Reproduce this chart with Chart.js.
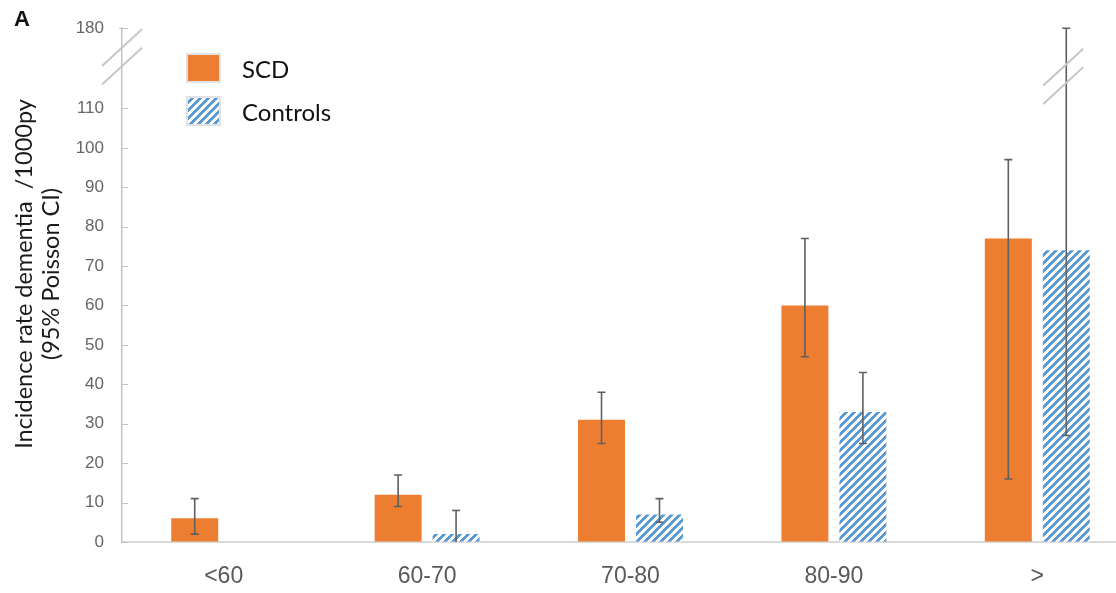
<!DOCTYPE html>
<html>
<head>
<meta charset="utf-8">
<script src="https://cdn.jsdelivr.net/npm/chart.js@4/dist/chart.umd.min.js"></script>
<style>
  html, body { margin: 0; padding: 0; background: #fff; overflow: hidden; width: 1116px; height: 593px; }
  #wrap { position: relative; width: 1150px; height: 593px; }
</style>
</head>
<body>
<div id="wrap"><canvas id="c" width="1150" height="593"></canvas></div>
<script>
// Age groups and incidence rates of dementia per 1000 person-years
const categories = ['<60', '60-70', '70-80', '80-90', '>'];
const seriesNames = ['SCD', 'Controls'];

const scdRates = [6, 12, 31, 60, 77];
const scdLow   = [2, 9, 25, 47, 16];
const scdHigh  = [11, 17, 38, 77, 97];

const controlRates = [0, 2, 7, 33, 74];
const controlLow   = [null, 0, 5, 25, 27];
const controlHigh  = [null, 8, 11, 43, 180];

const yTickValues = [0, 10, 20, 30, 40, 50, 60, 70, 80, 90, 100, 110, 180];

const yTitleLines = ['Incidence rate dementia  /1000py', '(95% Poisson CI)'];
const panelLetter = 'A';

// Broken value axis: everything above the break is compressed
const AXIS_BREAK = 110;
const SQUASH = 0.2907;
const AXIS_BREAK_MARK = 155;   // where the break symbol sits on the y axis
const BAR_BREAK_MARK = 138;    // where the break symbol sits on the long whisker

const ORANGE = '#ED7D31';
const BLUE = '#5B9BD5';
const INK = '#595959';

const squash = v => v <= AXIS_BREAK ? v : AXIS_BREAK + (v - AXIS_BREAK) * SQUASH;

class BrokenLinearScale extends Chart.LinearScale {
  getPixelForValue(value) {
    const lo = squash(this.min), hi = squash(this.max);
    return this.getPixelForDecimal((squash(value) - lo) / (hi - lo));
  }
  getValueForPixel(pixel) {
    const lo = squash(this.min), hi = squash(this.max);
    const s = lo + this.getDecimalForPixel(pixel) * (hi - lo);
    return s <= AXIS_BREAK ? s : AXIS_BREAK + (s - AXIS_BREAK) / SQUASH;
  }
}
BrokenLinearScale.id = 'brokenLinear';
BrokenLinearScale.defaults = Chart.LinearScale.defaults;
Chart.register(BrokenLinearScale);

// Upward diagonal hatch fill
function makeHatch() {
  const t = document.createElement('canvas');
  t.width = 8; t.height = 8;
  const g = t.getContext('2d');
  g.fillStyle = '#ffffff';
  g.fillRect(0, 0, 8, 8);
  g.fillStyle = BLUE;
  for (let y = 0; y < 8; y++) {
    for (let x = 0; x < 8; x++) {
      if (((x + y) % 8) < 4) g.fillRect(x, y, 1, 1);
    }
  }
  return g.createPattern(t, 'repeat');
}
const hatch = makeHatch();

const errorBars = [
  { low: scdLow, high: scdHigh },
  { low: controlLow, high: controlHigh }
];

const decorations = {
  id: 'decorations',
  afterDatasetsDraw(chart) {
    const ctx = chart.ctx;
    const ys = chart.scales.y;
    const area = chart.chartArea;

    // inward tick marks on the value axis
    ctx.save();
    ctx.strokeStyle = '#c4c4c4';
    ctx.lineWidth = 1;
    ys.ticks.forEach(t => {
      const py = Math.round(ys.getPixelForValue(t.value)) + 0.5;
      const x0 = t.value === 180 ? area.left - 3 : area.left;
      ctx.beginPath();
      ctx.moveTo(x0, py);
      ctx.lineTo(area.left + 6, py);
      ctx.stroke();
    });
    ctx.restore();

    // whiskers
    ctx.save();
    ctx.strokeStyle = '#5f5f5f';
    ctx.lineWidth = 1.6;
    errorBars.forEach((eb, di) => {
      const meta = chart.getDatasetMeta(di);
      meta.data.forEach((bar, i) => {
        if (eb.low[i] == null || eb.high[i] == null) return;
        const x = bar.x;
        const yl = ys.getPixelForValue(eb.low[i]);
        const yh = ys.getPixelForValue(eb.high[i]);
        ctx.beginPath();
        ctx.moveTo(x, yl); ctx.lineTo(x, yh);
        ctx.stroke();
        ctx.beginPath();
        if (eb.low[i] > 0) { ctx.moveTo(x - 4, yl); ctx.lineTo(x + 4, yl); }
        ctx.moveTo(x - 4, yh); ctx.lineTo(x + 4, yh);
        ctx.stroke();
      });
    });
    ctx.restore();

    // break symbols: pairs of slanted strokes
    const breakPair = (cx, cy) => {
      ctx.save();
      ctx.strokeStyle = '#c6c6c6';
      ctx.lineWidth = 2;
      [-9.2, 9.2].forEach(off => {
        ctx.beginPath();
        ctx.moveTo(cx - 20, cy + off + 18.4);
        ctx.lineTo(cx + 20, cy + off - 18.4);
        ctx.stroke();
      });
      ctx.restore();
    };
    breakPair(area.left, ys.getPixelForValue(AXIS_BREAK_MARK));
    const lastCtl = chart.getDatasetMeta(1).data[categories.length - 1];
    breakPair(lastCtl.x - 3, ys.getPixelForValue(BAR_BREAK_MARK));

    // legend
    ctx.save();
    const ds = chart.data.datasets;
    const boxes = [{ y: 54 }, { y: 97 }];
    ds.forEach((d, i) => {
      const by = boxes[i].y;
      ctx.fillStyle = '#e2e2e2';
      ctx.fillRect(186, by - 1, 35, 30);
      ctx.fillStyle = d.backgroundColor;
      ctx.fillRect(188, by + 1, 31, 26);
      ctx.fillStyle = '#111';
      ctx.font = '24px Lato, "Open Sans", sans-serif';
      ctx.textBaseline = 'middle';
      ctx.textAlign = 'left';
      ctx.fillText(d.label, 242, by + 16);
    });
    ctx.restore();

    // axis title and panel letter
    ctx.save();
    ctx.fillStyle = '#1a1a1a';
    ctx.font = '23.5px Lato, "Open Sans", sans-serif';
    ctx.textAlign = 'center';
    ctx.textBaseline = 'middle';
    ctx.translate(24, 274);
    ctx.rotate(-Math.PI / 2);
    ctx.fillText(yTitleLines[0], 0, 0);
    ctx.fillText(yTitleLines[1], 0, 27);
    ctx.restore();

    ctx.save();
    ctx.fillStyle = '#111';
    ctx.font = 'bold 22px "Liberation Sans", Arial, sans-serif';
    ctx.textAlign = 'left';
    ctx.textBaseline = 'alphabetic';
    ctx.fillText(panelLetter, 14, 26);
    ctx.restore();
  }
};

new Chart(document.getElementById('c'), {
  type: 'bar',
  data: {
    labels: categories,
    datasets: [
      { label: seriesNames[0], data: scdRates, backgroundColor: ORANGE, borderWidth: 0 },
      { label: seriesNames[1], data: controlRates, backgroundColor: hatch, borderWidth: 0 }
    ]
  },
  options: {
    responsive: false,
    animation: false,
    devicePixelRatio: 1,
    layout: { padding: { top: 23, right: 11, left: 0, bottom: 0 } },
    plugins: { legend: { display: false }, tooltip: { enabled: false } },
    datasets: { bar: { categoryPercentage: 0.57, barPercentage: 0.81 } },
    scales: {
      x: {
        grid: { drawOnChartArea: false, drawTicks: false },
        border: { color: '#d9d9d9', width: 2 },
        ticks: {
          color: INK,
          padding: 21,
          font: { family: '"Liberation Sans", Arial, sans-serif', size: 23 }
        },
        afterFit: s => { s.height = 51; }
      },
      y: {
        type: 'brokenLinear',
        min: 0,
        max: 180,
        afterBuildTicks: s => { s.ticks = yTickValues.map(v => ({ value: v })); },
        afterFit: s => { s.width = 122; },
        grid: { drawOnChartArea: false, drawTicks: false },
        border: { color: '#c4c4c4', width: 1.5 },
        ticks: {
          color: '#666666',
          padding: 18,
          autoSkip: false,
          font: { family: '"Liberation Sans", Arial, sans-serif', size: 17 },
          callback: v => String(v)
        }
      }
    }
  },
  plugins: [decorations]
});
</script>
</body>
</html>
